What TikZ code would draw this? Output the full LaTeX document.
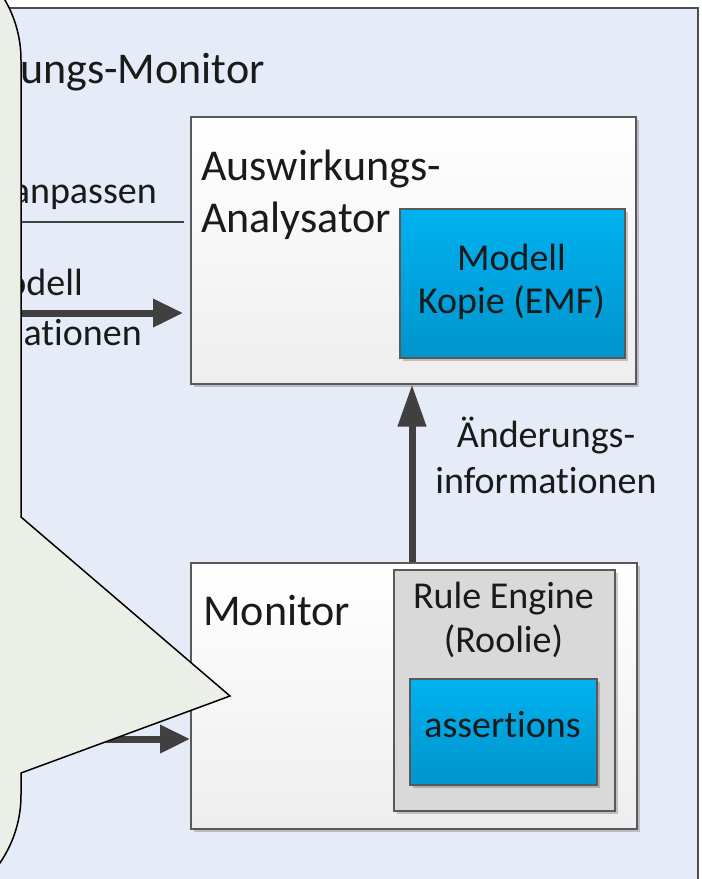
\documentclass[tikz,border=0pt]{standalone}
\usepackage{fontspec}
\setmainfont{Carlito}[Ligatures=NoCommon]
\usetikzlibrary{arrows.meta,shadows}

\definecolor{panelfill}{HTML}{E6ECF7}
\definecolor{paneledge}{HTML}{4D4D4D}
\definecolor{boxedge}{HTML}{595959}
\definecolor{boxbottom}{HTML}{EEEEEE}
\definecolor{bluetop}{HTML}{00B2F0}
\definecolor{bluebottom}{HTML}{0094CC}
\definecolor{engine}{HTML}{D9D9D9}
\definecolor{arrowgrey}{HTML}{404040}
\definecolor{textdark}{HTML}{1A1A1A}
\definecolor{notefill}{HTML}{ECEFE8}

\begin{document}
\begin{tikzpicture}[x=1pt,y=-1pt,
  bigtext/.style={font=\fontsize{44}{52}\selectfont, text=textdark, inner sep=0pt},
  smalltext/.style={font=\fontsize{38}{44}\selectfont, text=textdark, inner sep=0pt},
  boxshadow/.style={drop shadow={shadow xshift=3pt, shadow yshift=-3pt, opacity=0.2, fill=black}},
  whitebox/.style={draw=boxedge, line width=1.5pt, top color=white, bottom color=boxbottom,
    inner sep=0pt, anchor=north west, boxshadow},
  bluebox/.style={draw=boxedge, line width=1.5pt, top color=bluetop, bottom color=bluebottom,
    inner sep=0pt, anchor=north west, boxshadow},
  enginebox/.style={draw=boxedge, line width=1.5pt, fill=engine,
    inner sep=0pt, anchor=north west, boxshadow},
  flowarrow/.style={draw=arrowgrey, line width=7pt, -{Triangle[length=30pt,width=27pt]}},
  thinline/.style={draw=arrowgrey, line width=1.5pt},
]
\useasboundingbox (0,0) rectangle (702,879);
\clip (0,0) rectangle (702,879);

% outer panel
\draw[fill=panelfill, draw=paneledge, line width=1.5pt] (-40,8) rectangle (698,920);
\node[bigtext, anchor=base east] (paneltitle) at (265,83) {ungs-Monitor};

% impact analyser with its model copy
\node[whitebox, minimum width=445pt, minimum height=267pt] (ana) at (190,116) {};
\node[bigtext, anchor=base west] (anaA) at (201,180) {Auswirkungs-};
\node[bigtext, anchor=base west] (anaB) at (201,232) {Analysator};
\node[bluebox, minimum width=225pt, minimum height=149pt] (copy) at (399,208) {};
\node[smalltext, anchor=base] (copyA) at (511.5,270) {Modell};
\node[smalltext, anchor=base] (copyB) at (511.5,313) {Kopie (EMF)};

% monitor with rule engine and assertions
\node[whitebox, minimum width=446pt, minimum height=266pt] (mon) at (190,562) {};
\node[bigtext, anchor=base west] (monT) at (203,625) {Monitor};
\node[enginebox, minimum width=221pt, minimum height=241pt] (eng) at (393,569) {};
\node[smalltext, anchor=base] (engA) at (503.5,608) {Rule Engine};
\node[smalltext, anchor=base] (engB) at (503.5,652) {(Roolie)};
\node[bluebox, minimum width=187pt, minimum height=106pt] (ass) at (409,678) {};
\node[smalltext, anchor=base] (assT) at (502.5,737) {assertions};

% change information from monitor to analyser
\coordinate (upx) at (412,0);
\draw[flowarrow, -{Triangle[length=42pt,width=27pt]}] (mon.north -| upx) -- (ana.south -| upx);
\node[smalltext, anchor=base] (chgA) at (546,447) {Änderungs-};
\node[smalltext, anchor=base] (chgB) at (546,493) {informationen};

% inputs from the left
\coordinate (adaptL) at (-20,222);
\coordinate (adaptR) at (184,222);
\draw[thinline] (adaptL) -- (adaptR);
\node[smalltext, anchor=base east] (adaptT) at (157,203) {anpassen};

\coordinate (infoL) at (-20,313);
\draw[flowarrow, shorten >=7pt] (infoL) -- (infoL -| ana.west);
\node[smalltext, anchor=base east] (infoA) at (83,295) {odell};
\node[smalltext, anchor=base east] (infoB) at (142,345) {ationen};

\coordinate (evL) at (-20,739);
\draw[flowarrow] (evL) -- (evL -| mon.west);

% note callout on top
\draw[fill=notefill, draw=black, line width=1.5pt]
  (-99,-60) .. controls (-32.7,-60) and (21,-6.3) .. (21,60)
  -- (21,517) -- (230,696) -- (21,773) -- (21,795)
  .. controls (21,861.3) and (-32.7,915) .. (-99,915)
  -- (-200,915) -- (-200,-60) -- cycle;
\end{tikzpicture}
\end{document}
